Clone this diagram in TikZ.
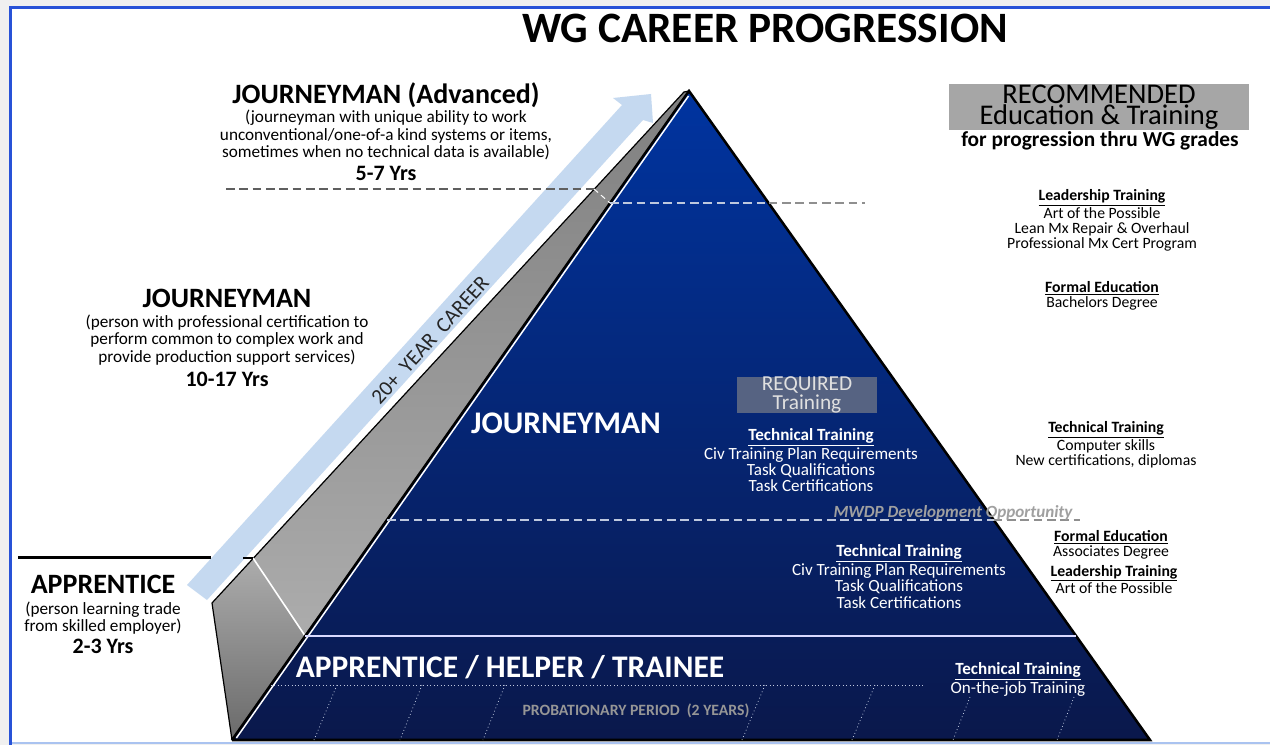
\documentclass[tikz,border=0pt]{standalone}
\usepackage{fontspec}
\setmainfont{Carlito}

\definecolor{framebl}{RGB}{40,82,215}
\definecolor{framelt}{RGB}{170,195,240}
\definecolor{pyrtop}{RGB}{0,52,160}
\definecolor{pyrmid}{RGB}{2,40,125}
\definecolor{pyrbot}{RGB}{10,24,75}
\definecolor{facelt}{RGB}{172,172,172}
\definecolor{facemd}{RGB}{160,160,160}
\definecolor{facedk}{RGB}{106,106,106}
\definecolor{arrowbl}{RGB}{197,217,240}
\definecolor{reqfill}{RGB}{86,99,130}
\definecolor{recfill}{RGB}{166,166,166}
\definecolor{dashlt}{RGB}{190,200,222}
\definecolor{dashdk}{RGB}{95,95,95}
\definecolor{mwdpgr}{RGB}{160,160,160}
\definecolor{probgr}{RGB}{150,150,150}

\newcommand{\fsz}[2]{\fontsize{#1}{#2}\selectfont}
\newcommand{\tthead}[1]{\underline{\textbf{#1}}}

\tikzset{every picture/.style={line width=0.75pt}}
\tikzset{
  titletext/.style={inner sep=0.75pt, font=\fsz{32.5}{36}\bfseries},
  lvlhead/.style={inner sep=0.75pt, font=\fsz{21}{24}\bfseries},
  lvldesc/.style={inner sep=0.75pt, align=center, font=\fsz{12.9}{12.9}},
  lvlyrs/.style={inner sep=0.75pt, font=\fsz{16.5}{18}\bfseries},
  pyrlvl/.style={inner sep=0.75pt, text=white, font=\fsz{23.6}{26}\bfseries},
  pyrlist/.style={inner sep=0.75pt, text=white, align=center, font=\fsz{12.8}{12.2}},
  recside/.style={inner sep=0.75pt, align=center, font=\fsz{11.8}{11.25}},
  dashline/.style={dash pattern=on 6.5pt off 3.5pt, line width=1pt},
  dotline/.style={dashlt, dotted, line width=0.6pt},
}

\begin{document}
\begin{tikzpicture}[x=0.75pt,y=0.75pt,yscale=-1,xscale=1]
	\useasboundingbox (0,0) rectangle (1270,745);
	
	%Shape: Frame
	\fill [gray!12] (0,0) rectangle (1270,745);
	\fill [white] (10,8) rectangle (1270,743);
	\draw [framelt, line width=1.5pt] (10,743) -- (1270,743);
	\draw [framebl, line width=2.25pt] (10,745) -- (10,8) -- (1270,8);
	
	\coordinate (apex) at (689,91);
	\coordinate (bl) at (232,740);
	\coordinate (br) at (1150,740);
	\coordinate (gtop) at (684,92);
	\coordinate (gleft) at (212,603);
	\coordinate (gstep) at (253,558);
	\coordinate (lstep) at (305.2,636);
	
	%Shape: Career Arrow
	\fill [arrowbl] (187,585) -- (622,105) -- (613,98) -- (651,94) -- (653,123) -- (643,120) -- (207,600) -- cycle;
	
	%Shape: Side Face
	\shade [top color=facemd!80!black, bottom color=facelt] (gstep) -- (gtop) -- (apex) -- (lstep) -- cycle;
	\shade [top color=facelt, bottom color=facedk] (gleft) -- (gstep) -- (lstep) -- (bl) -- cycle;
	\draw [line width=0.9pt, line join=round] (gleft) -- (gtop) -- (apex) -- (bl) -- cycle;
	\draw [white, line width=1.2pt] (gstep) -- (lstep);
	
	%Shape: Pyramid
	\shade [top color=pyrtop, middle color=pyrmid, bottom color=pyrbot] (apex) -- (br) -- (bl) -- cycle;
	\draw [line width=1.9pt, line join=miter] (bl) -- (br) -- (apex) -- (bl) ;
	\draw [white, line width=1.1pt] (236.4,738) -- (688.5,96) ;
	
	%Straight Lines: level borders
	\draw [dashdk, dashline] (226,189) -- (594,189) ;
	\draw [white, dash pattern=on 4pt off 3pt] (594,189) -- (610,203) ;
	\draw [dashlt, dashline] (610,203) -- (768.6,203) ;
	\draw [dashdk!70, dashline] (768.6,203) -- (865,203) ;
	\draw [dashlt, dashline] (387,520) -- (993.7,520) ;
	\draw [dashdk!70, dashline] (993.7,520) -- (1080,520) ;
	\draw [white!85!blue, line width=1.5pt] (lstep) -- (1076.1,636) ;
	\draw [dotline] (270.7,685) -- (925,685) ;
	\foreach \xt/\yt/\xb in {337/685/314, 422/685/400, 505/685/483, 765/685/742, 875/685/852, 970/697/953, 1074/697/1057}
	\draw [dotline] (\xt,\yt) -- (\xb,740) ;
	
	%Straight Lines: apprentice marker
	\draw [line width=2.25pt] (18,557) -- (211,557) ;
	\draw [line width=2pt] (243,558) -- (253,558) ;
	
	% Text Node
	\draw (765,28) node [titletext] (ttl) {WG CAREER PROGRESSION};
	% Text Node
	\draw (386,95) node [lvlhead] (advhead) {JOURNEYMAN (Advanced)};
	\draw (386,135) node [lvldesc] (advdesc) {(journeyman with unique ability to work\\unconventional/one-of-a kind systems or items,\\sometimes when no technical data is available)};
	\draw (386,173) node [lvlyrs] (advyrs) {5-7 Yrs};
	% Text Node
	\draw (227,298) node [lvlhead] (jhead) {JOURNEYMAN};
	\draw (227,340) node [lvldesc] (jdesc) {(person with professional certification to\\perform common to complex work and\\provide production support services)};
	\draw (227,379) node [lvlyrs] (jyrs) {10-17 Yrs};
	% Text Node
	\draw (103,584) node [lvlhead] (ahead) {APPRENTICE};
	\draw (103,618) node [lvldesc] (adesc) {(person learning trade\\from skilled employer)};
	\draw (103,646) node [lvlyrs] (ayrs) {2-3 Yrs};
	% Text Node
	\draw (430,340) node [inner sep=0.75pt, rotate=47.8, text=black!85, font=\fsz{16}{18}] (career) {20+\ \ YEAR\ \ CAREER};
	
	% Text Node
	\draw (566,423) node [pyrlvl] (jlvl) {JOURNEYMAN};
	\draw (807,395) node [fill=reqfill, minimum width=105pt, minimum height=27pt, inner sep=0pt, align=center, text=white!88!black, font=\fsz{16}{12}] (req) {REQUIRED\\Training};
	\draw (811,460) node [pyrlist] (jtech) {\tthead{Technical Training}\\Civ Training Plan Requirements\\Task Qualifications\\Task Certifications};
	\draw (953,513) node [inner sep=0.75pt, text=mwdpgr, font=\fsz{12.8}{14}\bfseries\itshape] (mwdp) {MWDP Development Opportunity};
	\draw (899,576.5) node [pyrlist] (atech) {\tthead{Technical Training}\\Civ Training Plan Requirements\\Task Qualifications\\Task Certifications};
	\draw (510,667) node [pyrlvl] (alvl) {APPRENTICE / HELPER / TRAINEE};
	\draw (636,711) node [inner sep=0.75pt, text=probgr, font=\fsz{11.8}{13}\bfseries] (prob) {PROBATIONARY PERIOD\ \ (2 YEARS)};
	\draw (1018,679.5) node [pyrlist] (ojt) {\tthead{Technical Training}\\On-the-job Training};
	
	% Text Node
	\draw (1099,107) node [fill=recfill, minimum width=225pt, minimum height=34.5pt, inner sep=0pt, align=center, font=\fsz{21.4}{15.75}] (rec) {RECOMMENDED\\Education \& Training};
	\draw (1100,141) node [inner sep=0.75pt, font=\fsz{16}{18}\bfseries] (recsub) {for progression thru WG grades};
	\draw (1102,220.5) node [recside] (lead1) {\tthead{Leadership Training}\\Art of the Possible\\Lean Mx Repair \& Overhaul\\Professional Mx Cert Program};
	\draw (1102,295.5) node [recside] (form1) {\tthead{Formal Education}\\Bachelors Degree};
	\draw (1106,445) node [recside] (tech2) {\tthead{Technical Training}\\Computer skills\\New certifications, diplomas};
	\draw (1111,544.5) node [recside] (form2) {\tthead{Formal Education}\\Associates Degree};
	\draw (1114,579.5) node [recside] (lead2) {\tthead{Leadership Training}\\Art of the Possible};
	
\end{tikzpicture}
\end{document}
